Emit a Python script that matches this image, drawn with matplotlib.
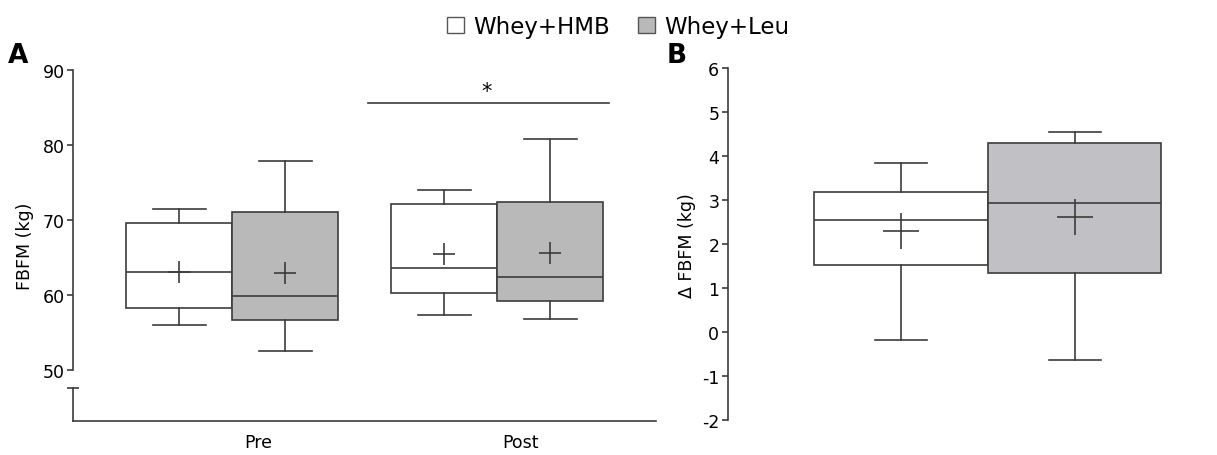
import matplotlib
matplotlib.use("Agg")
import matplotlib.pyplot as plt
from matplotlib.patches import Patch

plt.rcParams['font.family'] = ['DejaVu Sans']
plt.rcParams['axes.unicode_minus'] = False

# box stats: whislo, q1, med, q3, whishi
groups = ["Whey+HMB", "Whey+Leu"]
times = ["Pre", "Post"]
pre_hmb = [56.0, 58.3, 63.0, 69.6, 71.5]
pre_leu = [52.5, 56.7, 59.9, 71.0, 77.8]
post_hmb = [57.3, 60.2, 63.6, 72.1, 74.0]
post_leu = [56.8, 59.2, 62.4, 72.4, 80.8]
means_a = [63.1, 62.9, 65.5, 65.6]

delta_hmb = [-0.17, 1.52, 2.55, 3.19, 3.84]
delta_leu = [-0.64, 1.34, 2.93, 4.31, 4.55]
means_b = [2.29, 2.62]

line_col = "#3c3c3c"
white = "#ffffff"
gray_a = "#b8b9b8"
gray_b = "#c1c0c5"


def make_stats(vals, mean):
    lo, q1, med, q3, hi = vals
    return dict(whislo=lo, q1=q1, med=med, q3=q3, whishi=hi, mean=mean, fliers=[])


def draw_boxes(ax, stats, positions, colors, capw, msize):
    bp = ax.bxp(stats, positions=positions, widths=1.0, patch_artist=True,
                showmeans=True, showfliers=False, capwidths=capw,
                boxprops=dict(edgecolor=line_col, linewidth=1.2),
                medianprops=dict(color=line_col, linewidth=1.2),
                whiskerprops=dict(color=line_col, linewidth=1.2),
                capprops=dict(color=line_col, linewidth=1.2),
                meanprops=dict(marker='+', markeredgecolor=line_col,
                               markersize=msize, markeredgewidth=1.2))
    for patch, c in zip(bp['boxes'], colors):
        patch.set_facecolor(c)


fig = plt.figure(figsize=(12.17, 4.56), dpi=100)
W, H = 1217, 456

# ---- panel A
axA = fig.add_axes([73 / W, 1 - 422 / H, (656 - 73) / W, (422 - 70.7) / H])
stats_a = [make_stats(v, m) for v, m in
           zip([pre_hmb, pre_leu, post_hmb, post_leu], means_a)]
draw_boxes(axA, stats_a, [1.0, 2.0, 3.5, 4.5],
           [white, gray_a, white, gray_a], 0.5, 16)
axA.set_xlim(0, 5.5)
axA.set_ylim(43.2, 90)
axA.set_yticks([50, 60, 70, 80, 90])
axA.spines['left'].set_bounds(50, 90)
axA.spines[['top', 'right']].set_visible(False)
for s in ['left', 'bottom']:
    axA.spines[s].set_color(line_col)
    axA.spines[s].set_linewidth(1.2)
# lower piece of broken y axis
axA.plot([0, 0], [43.2, 47.6], color=line_col, lw=1.2, clip_on=False)
axA.plot([0], [47.6], marker='_', markersize=9, markeredgewidth=1.2,
         color=line_col, clip_on=False)
axA.set_xticks([1.75, 4.22])
axA.set_xticklabels(times)
axA.tick_params(axis='x', length=0, pad=9, labelsize=12.5)
axA.tick_params(axis='y', length=4, width=1.2, color=line_col,
                labelsize=12.5, pad=2)
axA.set_ylabel("FBFM (kg)", fontsize=12.5, labelpad=6)
# significance bar
axA.plot([2.78, 5.06], [85.5, 85.5], color=line_col, lw=1.2, clip_on=False)
axA.text(3.9, 85.8, "*", ha='center', va='bottom', fontsize=15)

# ---- panel B
axB = fig.add_axes([727.7 / W, 1 - 421 / H, (1190 - 727.7) / W, (421 - 69.3) / H])
stats_b = [make_stats(delta_hmb, means_b[0]), make_stats(delta_leu, means_b[1])]
draw_boxes(axB, stats_b, [1.0, 2.0], [white, gray_b], 0.3, 26)
axB.set_xlim(0, (1190 - 727.7) / 173.5)
axB.set_ylim(-2, 6)
axB.set_yticks(range(-2, 7))
axB.spines[['top', 'right', 'bottom']].set_visible(False)
axB.spines['left'].set_color(line_col)
axB.spines['left'].set_linewidth(1.2)
axB.set_xticks([])
axB.tick_params(axis='y', length=4, width=1.2, color=line_col,
                labelsize=12.5, pad=2)
axB.set_ylabel("Δ FBFM (kg)", fontsize=12.5, labelpad=4)

# panel letters
fig.text(8 / W, 1 - 56 / H, "A", fontsize=19, fontweight='bold', va='center')
fig.text(667 / W, 1 - 56 / H, "B", fontsize=19, fontweight='bold', va='center')

# legend
handles = [Patch(facecolor=white, edgecolor="#555555", lw=1.0),
           Patch(facecolor=gray_a, edgecolor="#555555", lw=1.0)]
fig.legend(handles, groups, loc='upper center', bbox_to_anchor=(0.508, 1.01),
           ncol=2, frameon=False, fontsize=16.5, handlelength=0.75,
           handleheight=0.75, handletextpad=0.4, columnspacing=1.2)

fig.savefig("out.png", dpi=100)
